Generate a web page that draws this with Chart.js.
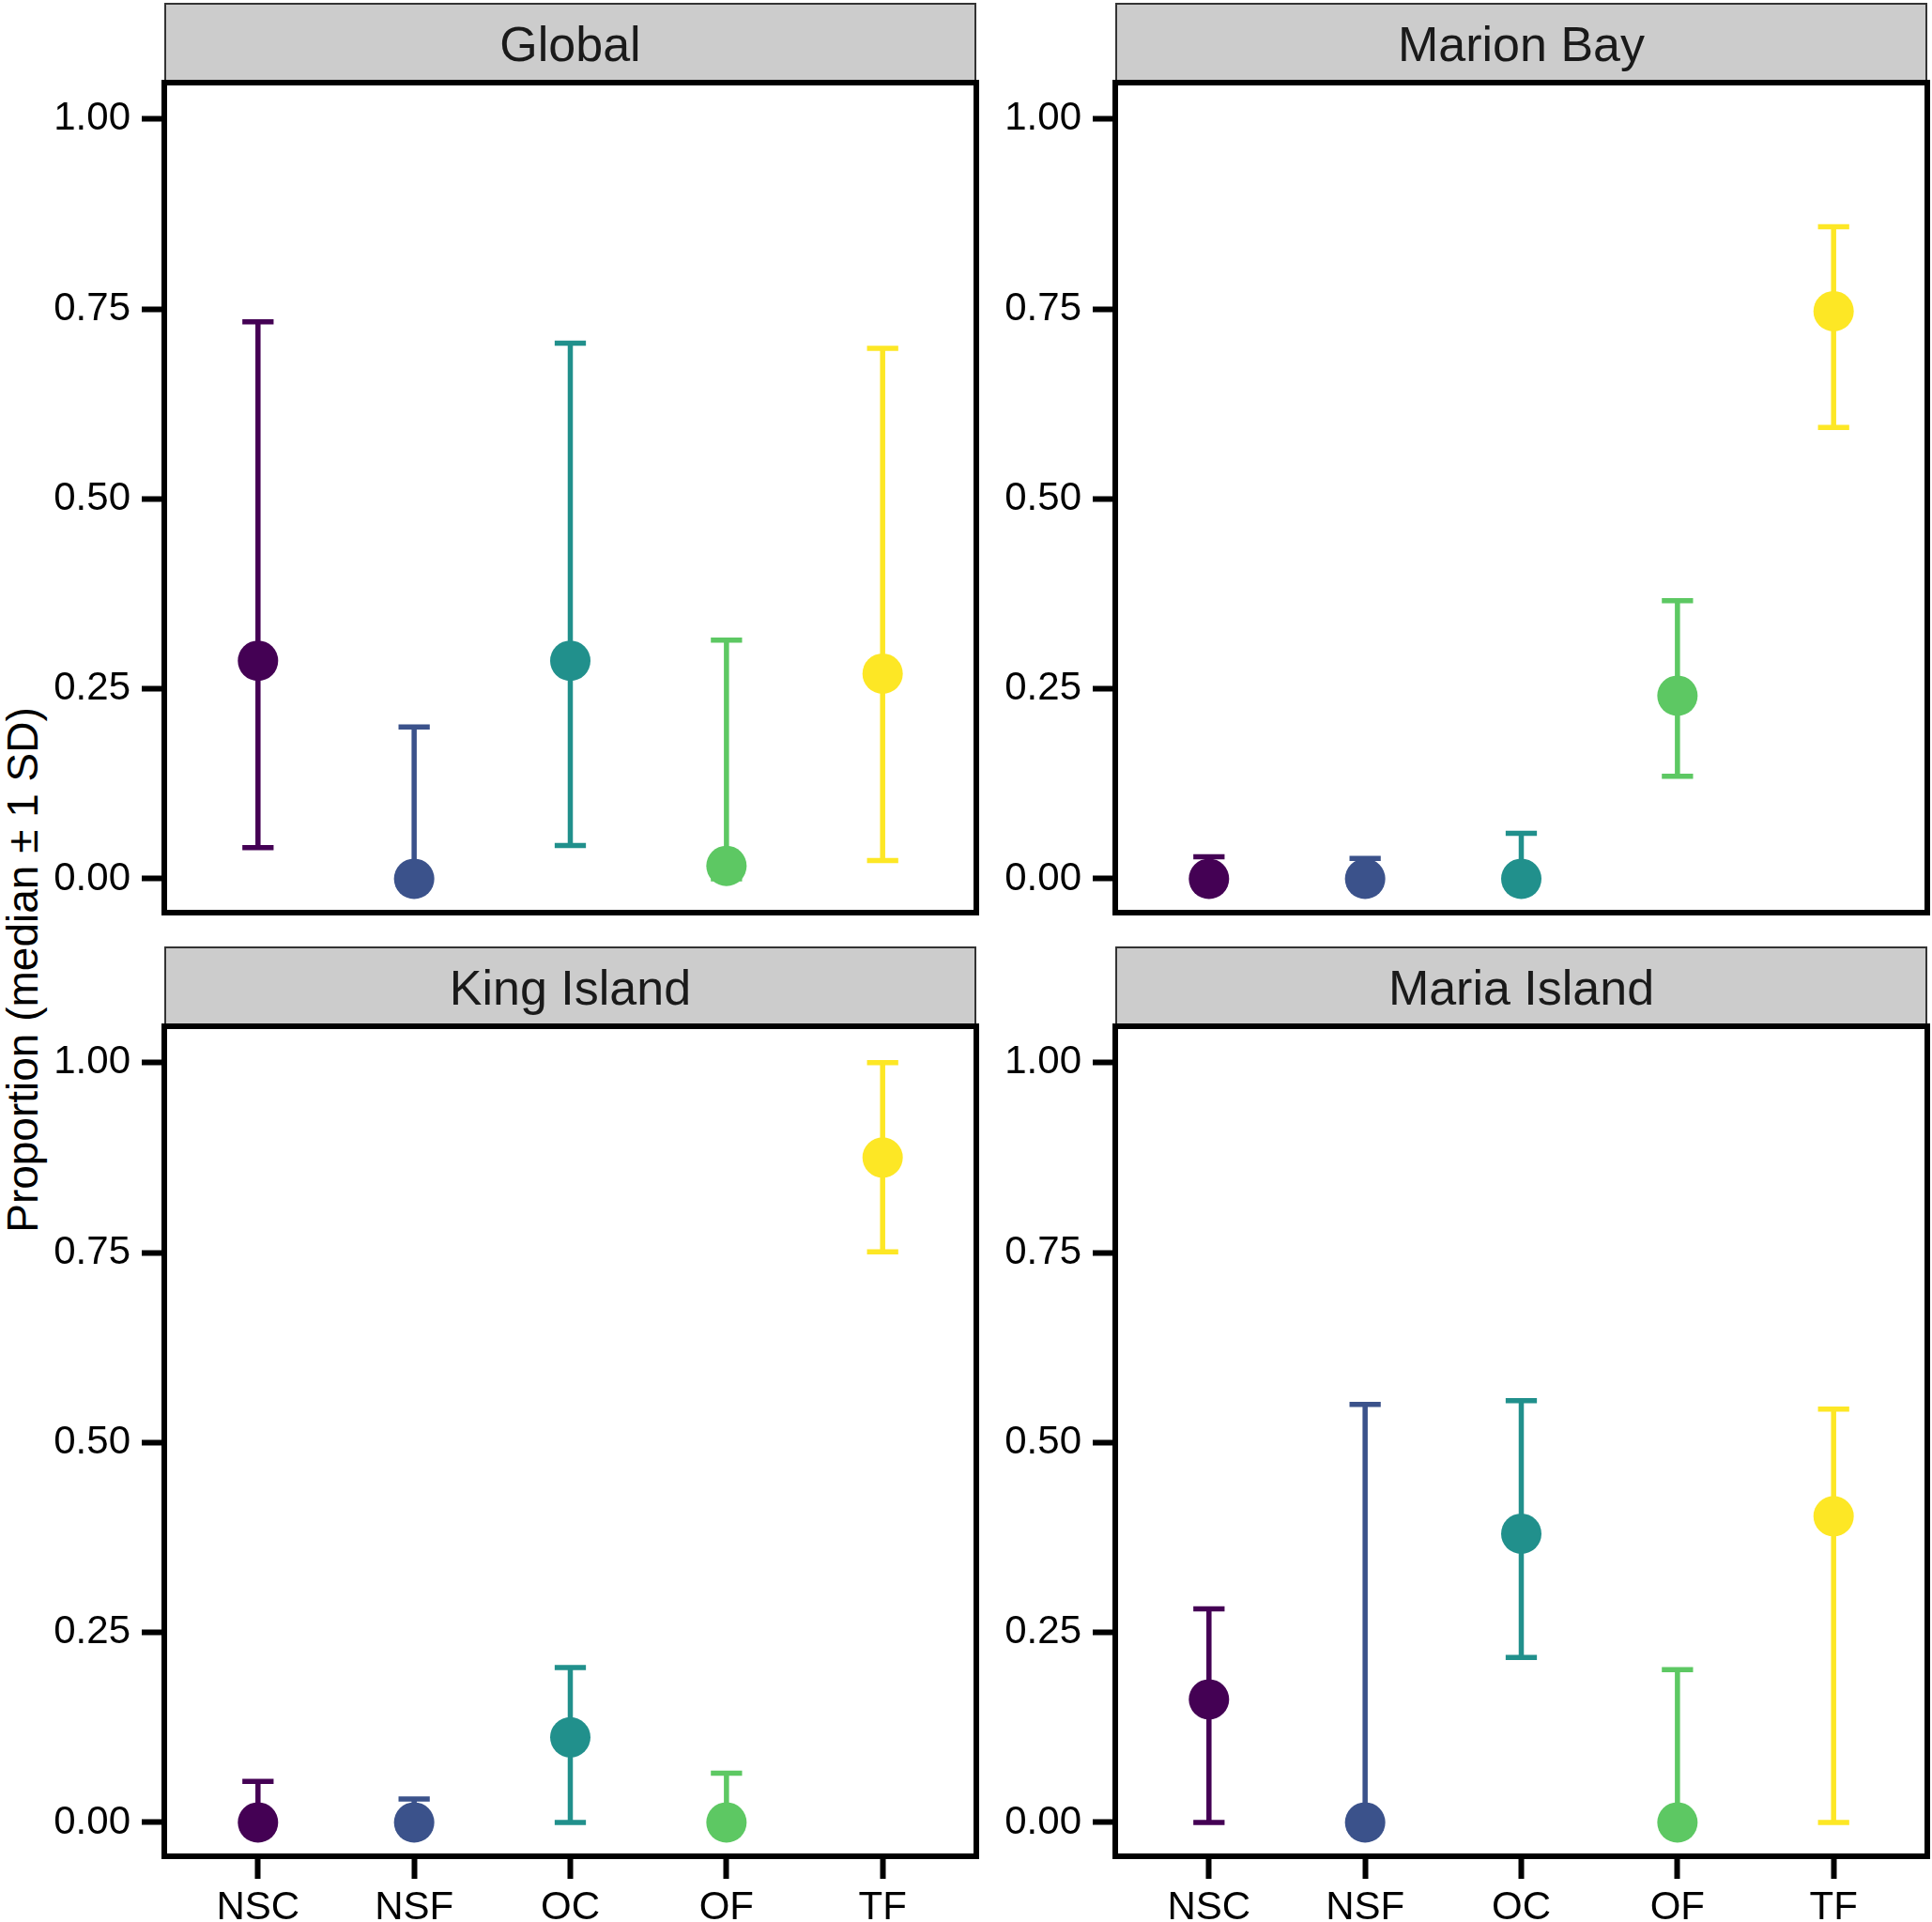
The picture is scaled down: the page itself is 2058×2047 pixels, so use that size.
<!DOCTYPE html>
<html>
<head>
    <title>Proportion by site</title>
    <script src="https://cdn.jsdelivr.net/npm/chart.js"></script>
    <style>
        body { margin: 0; background: #fff; font-family: "Liberation Sans", Arial, sans-serif; }
        #page { position: relative; width: 2058px; height: 2047px; overflow: hidden; }
        canvas { position: absolute; }
        .strip {
            position: absolute; box-sizing: border-box; background: #cccccc;
            border: 2px solid #333; border-bottom: none;
            font-size: 52px; color: #1a1a1a; text-align: center;
            display: flex; align-items: center; justify-content: center;
        }
        #ytitle {
            position: absolute; left: 24px; top: 1033px; font-size: 46px; white-space: nowrap;
            transform: translate(-50%, -50%) rotate(-90deg); color: #000;
        }
    </style>
</head>
<body>
<div id="page">
    <div id="ytitle">Proportion (median ± 1 SD)</div>
</div>

<script>
    // categories and colours (viridis, 5 levels)
    const categories = ['NSC', 'NSF', 'OC', 'OF', 'TF'];
    const colours = ['#440154', '#3B528B', '#21908C', '#5DC863', '#FDE725'];
    const yTicks = [0, 0.25, 0.5, 0.75, 1];

    // values: median, median - 1 SD, median + 1 SD
    const globalMedian = [0.287, 0.0, 0.287, 0.017, 0.270];
    const globalLow    = [0.041, 0.0, 0.044, 0.0, 0.024];
    const globalHigh   = [0.733, 0.200, 0.705, 0.314, 0.698];

    const marionMedian = [0.0, 0.0, 0.0, 0.241, 0.747];
    const marionLow    = [0.0, 0.0, 0.0, 0.135, 0.594];
    const marionHigh   = [0.029, 0.027, 0.060, 0.366, 0.858];

    const kingMedian = [0.0, 0.0, 0.112, 0.0, 0.875];
    const kingLow    = [0.0, 0.0, 0.0, 0.0, 0.751];
    const kingHigh   = [0.054, 0.031, 0.204, 0.065, 1.0];

    const mariaMedian = [0.162, 0.0, 0.380, 0.0, 0.403];
    const mariaLow    = [0.0, 0.0, 0.217, 0.0, 0.0];
    const mariaHigh   = [0.281, 0.550, 0.555, 0.201, 0.544];

    const panels = [
        { title: 'Global',       median: globalMedian, low: globalLow, high: globalHigh, col: 0, row: 0 },
        { title: 'Marion Bay',   median: marionMedian, low: marionLow, high: marionHigh, col: 1, row: 0 },
        { title: 'King Island',  median: kingMedian,   low: kingLow,   high: kingHigh,   col: 0, row: 1 },
        { title: 'Maria Island', median: mariaMedian,  low: mariaLow,  high: mariaHigh,  col: 1, row: 1 }
    ];

    Chart.defaults.font.family = '"Liberation Sans", Arial, sans-serif';
    Chart.defaults.color = '#000';

    // error bars under the points, panel border on top
    const errorBars = {
        id: 'errorBars',
        beforeDatasetsDraw(chart, args, opts) {
            const ctx = chart.ctx, xs = chart.scales.x, ys = chart.scales.y;
            ctx.save();
            ctx.lineWidth = 5.5;
            ctx.lineCap = 'butt';
            opts.low.forEach((lo, i) => {
                const x = xs.getPixelForValue(i + 1);
                const x0 = xs.getPixelForValue(i + 0.9), x1 = xs.getPixelForValue(i + 1.1);
                const yl = ys.getPixelForValue(lo), yh = ys.getPixelForValue(opts.high[i]);
                ctx.strokeStyle = colours[i];
                ctx.beginPath();
                ctx.moveTo(x, yl); ctx.lineTo(x, yh);
                ctx.moveTo(x0, yl); ctx.lineTo(x1, yl);
                ctx.moveTo(x0, yh); ctx.lineTo(x1, yh);
                ctx.stroke();
            });
            ctx.restore();
        },
        afterDraw(chart) {
            const a = chart.chartArea, ctx = chart.ctx;
            ctx.save();
            ctx.lineWidth = 6;
            ctx.strokeStyle = '#000';
            ctx.strokeRect(a.left, a.top, a.right - a.left, a.bottom - a.top);
            ctx.restore();
        }
    };

    const page = document.getElementById('page');

    panels.forEach(p => {
        const bottomRow = p.row === 1;
        const left = p.col === 0 ? 0 : 1013;
        const width = p.col === 0 ? 1046 : 1045;
        const top = bottomRow ? 1089 : 84;
        const height = bottomRow ? 958 : 893;
        const areaLeft = (p.col === 0 ? 175 : 1188);

        const strip = document.createElement('div');
        strip.className = 'strip';
        strip.textContent = p.title;
        strip.style.left = areaLeft + 'px';
        strip.style.width = '865px';
        strip.style.top = (top + 4 - 85) + 'px';
        strip.style.height = '85px';
        page.appendChild(strip);

        const canvas = document.createElement('canvas');
        canvas.width = width; canvas.height = height;
        canvas.style.left = left + 'px'; canvas.style.top = top + 'px';
        canvas.style.width = width + 'px'; canvas.style.height = height + 'px';
        page.appendChild(canvas);

        new Chart(canvas.getContext('2d'), {
            type: 'scatter',
            data: {
                datasets: [{
                    data: p.median.map((m, i) => ({ x: i + 1, y: m })),
                    pointBackgroundColor: colours,
                    pointBorderWidth: 0,
                    pointRadius: 21.5,
                    pointHoverRadius: 21.5
                }]
            },
            options: {
                responsive: false,
                animation: false,
                devicePixelRatio: 1,
                layout: {
                    autoPadding: false,
                    padding: { top: 4, right: width - 865 - 175, bottom: bottomRow ? 0 : 5, left: 0 }
                },
                plugins: {
                    legend: { display: false },
                    tooltip: { enabled: false },
                    errorBars: { low: p.low, high: p.high }
                },
                scales: {
                    x: {
                        type: 'linear',
                        min: 0.4, max: 5.6,
                        display: bottomRow,
                        afterBuildTicks: s => { s.ticks = categories.map((c, i) => ({ value: i + 1 })); },
                        afterFit: s => {
                            s.height = bottomRow ? 70 : 0;
                            s.paddingLeft = 0; s.paddingRight = 0;
                        },
                        ticks: {
                            callback: v => categories[v - 1],
                            font: { size: 42 },
                            padding: 6,
                            maxRotation: 0
                        },
                        grid: { drawOnChartArea: false, tickLength: 24, tickWidth: 6, tickColor: '#000' },
                        border: { display: false }
                    },
                    y: {
                        min: -0.0445, max: 1.0478,
                        afterBuildTicks: s => { s.ticks = yTicks.map(v => ({ value: v })); },
                        afterFit: s => {
                            s.width = 175;
                            s.paddingTop = 0; s.paddingBottom = 0;
                        },
                        ticks: {
                            callback: v => v.toFixed(2),
                            font: { size: 42 },
                            padding: 12
                        },
                        grid: { drawOnChartArea: false, tickLength: 24, tickWidth: 6, tickColor: '#000' },
                        border: { display: false }
                    }
                }
            },
            plugins: [errorBars]
        });
    });
</script>
</body>
</html>
